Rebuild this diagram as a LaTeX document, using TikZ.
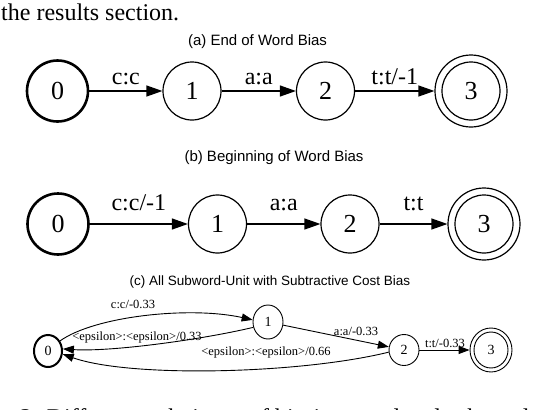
\documentclass[tikz,border=0pt]{standalone}
\usepackage{fontspec}
\setmainfont{Liberation Serif}
\newfontfamily\hvfont{Liberation Sans}
\usetikzlibrary{arrows.meta,shapes.geometric}
\begin{document}
\begin{tikzpicture}[x=1pt,y=-1pt,
  st/.style={circle,draw,line width=1.2pt,minimum size=58pt,inner sep=0pt,font=\fontsize{26}{30}\selectfont},
  startst/.style={st,line width=2.6pt,minimum size=61pt},
  acc/.style={st,minimum size=72pt,path picture={\draw[line width=1.2pt] (path picture bounding box.center) circle[radius=29pt];}},
  tr/.style={draw,line width=1.2pt,-{Triangle[length=16pt,width=11pt]}},
  lab/.style={anchor=base,inner sep=0pt,font=\fontsize{24}{28}\selectfont},
  ttl/.style={anchor=base,inner sep=0pt,font=\hvfont\fontsize{15}{18}\selectfont},
  cs/.style={ellipse,draw,line width=0.9pt,inner sep=0pt,minimum width=30pt,minimum height=34pt,font=\fontsize{14}{16}\selectfont},
  cstart/.style={cs,line width=2pt,minimum width=28pt,minimum height=32pt},
  cacc/.style={cs,minimum width=42pt,minimum height=44pt,path picture={\draw[line width=0.9pt] (path picture bounding box.center) ellipse[x radius=17pt,y radius=18pt];}},
  trc/.style={draw,line width=0.9pt,-{Triangle[length=11pt,width=8pt]}},
  labc/.style={anchor=base,inner sep=0pt,font=\fontsize{12.5}{14}\selectfont},
  body/.style={anchor=base west,inner sep=0pt,font=\fontsize{24}{28}\selectfont}]
\useasboundingbox (0,0) rectangle (536,410);

\node[body] (top) at (1,20) {the results section.};

% (a)
\node[ttl] (ta) at (257.5,45) {(a) End of Word Bias};
\node[startst] (a0) at (57.5,91) {0};
\node[st] (a1) at (192,91) {1};
\node[st] (a2) at (325.5,91) {2};
\node[acc] (a3) at (471,91) {3};
\draw[tr] (a0) -- node[lab,yshift=7pt] {c:c} (a1);
\draw[tr] (a1) -- node[lab,yshift=7pt] {a:a} (a2);
\draw[tr] (a2) -- node[lab,yshift=7pt] {t:t/-1} (a3);

% (b)
\node[ttl] (tb) at (274,161) {(b) Beginning of Word Bias};
\node[startst] (b0) at (58,224) {0};
\node[st] (b1) at (217.5,224) {1};
\node[st] (b2) at (350,224) {2};
\node[acc] (b3) at (484,224) {3};
\draw[tr] (b0) -- node[lab,yshift=14pt] {c:c/-1} (b1);
\draw[tr] (b1) -- node[lab,yshift=14pt] {a:a} (b2);
\draw[tr] (b2) -- node[lab,yshift=14pt] {t:t} (b3);

% (c)
\node[ttl,font=\hvfont\fontsize{13.5}{16}\selectfont] (tc) at (270,285) {(c) All Subword-Unit with Subtractive Cost Bias};
\node[cstart] (c0) at (48,351) {0};
\node[cs] (c1) at (268,322) {1};
\node[cs,minimum height=31pt] (c2) at (404,350) {2};
\node[cacc] (c3) at (491,350) {3};
\draw[trc] (c0.40) .. controls (95,316) and (190,306) .. (c1.172)
  node[labc] at (133,308) {c:c/-0.33};
\draw[trc] (c1.200) .. controls (200,340) and (110,352) .. (c0.8)
  node[labc] at (137,340) {<epsilon>:<epsilon>/0.33};
\draw[trc] (c2.188) .. controls (300,374) and (130,378) .. (c0.-12)
  node[labc] at (266,355) {<epsilon>:<epsilon>/0.66};
\draw[trc] (c1) -- (c2) node[labc] at (356,335) {a:a/-0.33};
\draw[trc] (c2) -- (c3) node[labc] at (445,347) {t:t/-0.33};

\node[body] (bot) at (20,425) {2: Different techniques of biasing word and subword unit};
\end{tikzpicture}
\end{document}
